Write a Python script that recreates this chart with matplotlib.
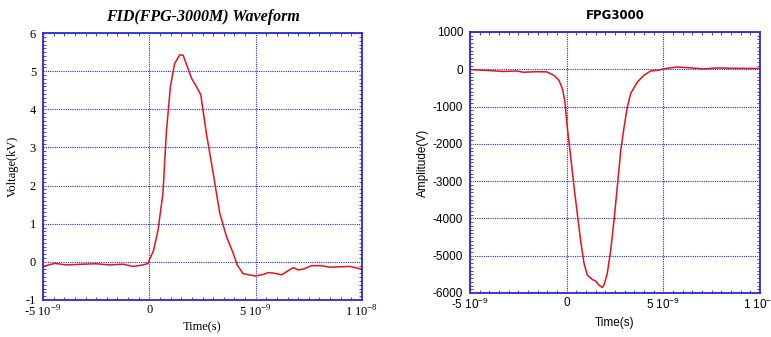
import numpy as np
import matplotlib
matplotlib.use("Agg")
import matplotlib.pyplot as plt
from matplotlib.ticker import FixedLocator, AutoMinorLocator

plt.rcParams["axes.unicode_minus"] = False

# left panel: FID(FPG-3000M) waveform, time in ns, voltage in kV
fid_t = [-5.0, -4.45, -3.9, -3.1, -2.5, -1.87, -1.24, -0.77, -0.3, -0.06,
         0.0, 0.2, 0.41, 0.64, 0.8, 0.99, 1.19, 1.43, 1.59, 1.98, 2.21, 2.42,
         2.68, 3.0, 3.31, 3.63, 3.94, 4.13, 4.41, 4.97, 5.37, 5.6, 5.9, 6.22,
         6.77, 7.0, 7.24, 7.63, 8.1, 8.49, 9.44, 10.0]
fid_v = [-0.12, -0.04, -0.08, -0.06, -0.05, -0.08, -0.06, -0.12, -0.08, -0.04,
         0.05, 0.3, 0.84, 1.8, 3.4, 4.6, 5.2, 5.43, 5.42, 4.82, 4.6, 4.38,
         3.38, 2.33, 1.28, 0.66, 0.23, -0.08, -0.31, -0.37, -0.33, -0.28, -0.3, -0.34,
         -0.15, -0.21, -0.19, -0.1, -0.1, -0.14, -0.12, -0.19]

# right panel: FPG3000, time in ns, amplitude in V
fpg_t = [-5.0, -3.97, -3.28, -2.59, -2.24, -1.55, -1.03, -0.67, -0.4, -0.22,
         -0.1, 0.03, 0.21, 0.38, 0.55, 0.72, 0.9, 1.07, 1.33, 1.5, 1.67, 1.84,
         1.93, 2.1, 2.28, 2.45, 2.62, 2.8, 2.97, 3.14, 3.31, 3.66, 4.0, 4.35,
         4.78, 5.0, 5.69, 6.2, 7.07, 7.76, 8.79, 10.0]
fpg_v = [-10, -35, -60, -45, -80, -65, -70, -160, -295, -520,
         -830, -1550, -2350, -3150, -3870, -4585, -5210, -5520, -5640, -5680, -5790, -5850,
         -5790, -5480, -4850, -4050, -3150, -2170, -1550, -1010, -650, -340, -160, -45,
         -25, 10, 60, 45, 10, 35, 25, 20]

x_ticks = [-5e-9, 0, 5e-9, 1e-8]
x_labels = ["-5 10$^{\\mathregular{-9}}$", "0", "5 10$^{\\mathregular{-9}}$",
            "1 10$^{\\mathregular{-8}}$"]

blue = "#2a2ad8"
red = "#e8101a"

fig = plt.figure(figsize=(7.71, 3.37), dpi=100)


def style_axes(ax, family, size):
    for s in ax.spines.values():
        s.set_color(blue)
        s.set_linewidth(1.3)
    ax.grid(True, which="major", color=blue, linestyle=(0, (1, 1)), linewidth=0.8)
    ax.xaxis.set_minor_locator(AutoMinorLocator(10))
    ax.yaxis.set_minor_locator(AutoMinorLocator(10))
    ax.tick_params(which="both", direction="in", top=True, right=True, color=blue)
    ax.tick_params(which="major", length=0)
    ax.tick_params(which="minor", length=2, width=0.6)
    ax.tick_params(axis="x", labelsize=size, pad=3)
    ax.tick_params(axis="y", labelsize=size, pad=5)
    for lab in ax.get_xticklabels() + ax.get_yticklabels():
        lab.set_family(family)


# left chart
ax1 = fig.add_axes([0.0558, 0.1098, 0.4137, 0.792])
ax1.plot(np.array(fid_t) * 1e-9, fid_v, color=red, linewidth=1.1)
ax1.set_xlim(-5e-9, 1e-8)
ax1.set_ylim(-1, 6)
ax1.xaxis.set_major_locator(FixedLocator(x_ticks))
ax1.set_xticklabels(x_labels)
ax1.set_yticks(range(-1, 7))
style_axes(ax1, "Liberation Serif", 9)
ax1.set_xlabel("Time(s)", family="Liberation Serif", fontsize=9, labelpad=1)
ax1.set_ylabel("Voltage(kV)", family="Liberation Serif", fontsize=9, labelpad=5)
ax1.set_title("FID(FPG-3000M) Waveform", family="Liberation Serif",
              fontweight="bold", style="italic", fontsize=11.5, pad=9)

# right chart
ax2 = fig.add_axes([0.6096, 0.1306, 0.3761, 0.7745])
ax2.plot(np.array(fpg_t) * 1e-9, fpg_v, color=red, linewidth=1.1)
ax2.set_xlim(-5e-9, 1e-8)
ax2.set_ylim(-6000, 1000)
ax2.xaxis.set_major_locator(FixedLocator(x_ticks))
ax2.set_xticklabels(x_labels)
ax2.set_yticks(range(-6000, 1001, 1000))
style_axes(ax2, "Liberation Sans", 8.5)
ax2.set_xlabel("Time(s)", family="Liberation Sans", fontsize=8.5, labelpad=3)
ax2.set_ylabel("Amplitude(V)", family="Liberation Sans", fontsize=8.5, labelpad=3)
ax2.set_title("FPG3000", family="DejaVu Sans", fontweight="bold", fontsize=8.5, pad=9)

fig.savefig("out.png", dpi=100)
